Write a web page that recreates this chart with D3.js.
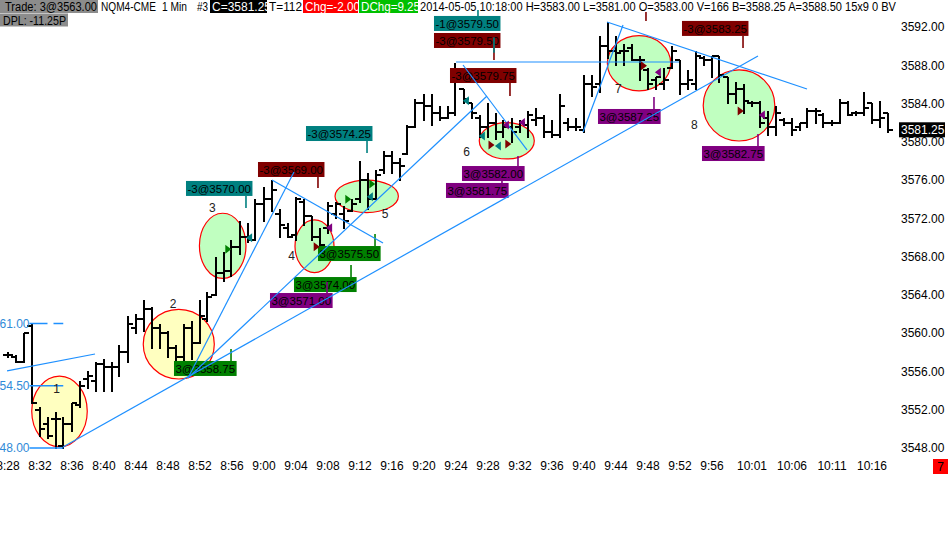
<!DOCTYPE html>
<html><head><meta charset="utf-8">
<script src="https://cdn.jsdelivr.net/npm/d3@7/dist/d3.min.js"></script>
<style>
html,body{margin:0;padding:0;background:#fff;}
svg{display:block;font-family:"Liberation Sans",Arial,sans-serif;}
</style></head>
<body><svg id="c" width="948" height="544"></svg>
<script>
// ---------- DATA ----------
const highs = [3558,3557.75,3560,3561,3552.25,3551.25,3551.75,3551.25,3552.75,3555,
3556,3557,3557.25,3557,3558.75,3561.75,3562,3563.5,3562.75,3561,
3560.25,3558.75,3561,3561.25,3563.5,3564.25,3568,3568.5,3569.75,3571.75,
3571.5,3574,3575.25,3576,3573,3571.5,3574.25,3574,3572.25,3571,
3573.75,3573.75,3573.25,3574,3578,3576.75,3577,3579,3579,3578.25,
3581.75,3584.5,3585,3585,3583.75,3583.75,3588.25,3585.5,3584,3582.75,
3584,3583,3582.25,3582.5,3582.25,3583.25,3583.5,3582.75,3582.25,3585,
3582.5,3582.5,3587,3587,3591,3592.5,3591,3590.25,3590.25,3589,
3587.75,3586.75,3587.75,3590,3588.5,3587.5,3589.5,3589,3589,3589,
3586.75,3586.25,3586,3584.25,3584.25,3583.25,3583.75,3582.5,3582.5,3582,
3583.5,3583.5,3583,3582.25,3584.5,3584.25,3583.25,3585.25,3584,3584.25,3583];
const lows = [3557.5,3557,3557,3552.75,3549.25,3549,3548,3548,3549.75,3552.25,
3554.25,3554,3554,3554,3555.5,3557,3560,3560.25,3558.5,3558.5,
3557.5,3557,3557,3557.25,3559,3561.25,3564,3565.5,3566,3568.25,
3569.5,3569.75,3571.75,3572.75,3570,3570,3569.75,3571.25,3569.75,3568.75,
3570.5,3572,3571,3572.75,3573.75,3573,3574,3576.75,3576.75,3576,
3578.75,3581.5,3582.25,3581.75,3582.25,3582.5,3582.75,3584,3582.5,3580.5,
3580.5,3580.25,3580.5,3580,3581,3580.5,3581.75,3580.5,3580.5,3580.5,
3581.25,3581.25,3581,3584.75,3585.25,3588.75,3588,3588,3588.5,3586.5,
3585.5,3585.5,3585.5,3587.75,3585,3585.5,3585.5,3588,3586.75,3586.25,
3584,3584,3583,3583.75,3581.5,3580.75,3580.75,3581.75,3580.75,3581.25,
3581.5,3582,3581.5,3581.75,3582,3582.75,3582.75,3582.75,3582,3581.5,3581];
const opens = [3557.75,3557.5,3557,3560.75,3552,3550.5,3551,3548.25,3550.5,3552.5,
3555.25,3555,3556.75,3556.5,3556.5,3558,3560.5,3561.5,3562.5,3560.5,
3560,3558.5,3557.5,3560.5,3559,3561.5,3564,3566.25,3566.5,3569,
3570,3569.75,3573.5,3574,3572.5,3571,3570.25,3573.75,3572.25,3570,
3571,3572.5,3572.5,3572.75,3574,3576,3574,3577,3578.5,3577.75,
3578.75,3581.5,3584,3583.75,3583,3582.5,3583,3585.5,3584,3582.5,
3581.5,3582,3581,3581.5,3581.5,3581.75,3582.25,3582.5,3581,3580.75,
3582,3581.5,3581.25,3586,3586,3590,3589.5,3589.5,3589.75,3588.5,
3587.5,3586.5,3586,3587.75,3588.5,3586,3586,3588.75,3588.5,3589,
3586.75,3585,3585.5,3584,3584,3582.5,3581.5,3582.25,3582,3581.5,
3582,3583.25,3582.75,3582,3582,3584,3583,3583,3584,3582.25,3583];
const closes = [3557.75,3557,3560,3552.75,3550,3549.25,3551,3550.5,3552.75,3554.5,
3555.5,3556.75,3556.5,3556.5,3558,3561,3561.5,3562.5,3560.5,3560,
3558.5,3557.5,3560.5,3559,3561.75,3563.75,3566.25,3566.5,3569,3570,
3569.75,3573.5,3574,3575,3571.25,3570,3574,3572.25,3570,3569.25,
3573.25,3573.5,3571.75,3573.5,3576,3574,3576.5,3578.5,3577.75,3577.5,
3581.5,3584,3583.75,3583,3582.5,3583,3586.25,3584.5,3583,3581.5,
3582,3581,3581.5,3581,3582,3582.75,3582.5,3581,3580.75,3583.75,
3581.5,3581.5,3586,3585.75,3590,3589.5,3589.25,3589.5,3588.5,3588.5,
3586,3586.75,3586.5,3589.5,3586,3586.5,3589,3588.5,3589,3587,
3585,3585.5,3584.25,3584,3582,3581.5,3583,3582,3581.25,3582,
3583.25,3583.25,3582,3582,3584,3582.75,3583,3583.5,3582.25,3582.5,3581.25];

const firstBar = "8:28", lastBar = "10:18";
const timeTicks = ["8:28","8:32","8:36","8:40","8:44","8:48","8:52","8:56","9:00","9:04","9:08","9:12","9:16","9:20","9:24","9:28","9:32","9:36","9:40","9:44","9:48","9:52","9:56","10:01","10:06","10:11","10:16"];
const priceTicks = [3548,3552,3556,3560,3564,3568,3572,3576,3580,3584,3588,3592];
const lastPrice = 3581.25;

// annotation data, in (minutes after first bar, price)
const ellipseCenters = [[6.5,3551.83],[21.41,3558.85],[26.9,3569.13],[38.375,3569.08],[44.9,3574.3],[62.41,3580.1],[78.94,3588.2],[91.44,3583.79]];
const ellipseRadii = [[3.47,3.69],[4.44,3.64],[2.91,3.4],[2.44,2.75],[3.96,1.7],[3.44,1.9],[3.96,2.89],[4.475,3.71]];
const ellipseKinds = ["y","y","g","g","g","g","g","g"];
const waveLabels = ["1","2","3","4","5","6","7","8"];
const wavePos = [[6.15,3554.24],[20.7,3563.12],[25.6,3573.15],[35.5,3568.06],[47.2,3572.52],[57.4,3578.96],[76.35,3585.51],[85.85,3581.83]];

const trendLines = [
 [[-0.06,3556.05],[10.94,3557.82]],
 [[6.94,3548.1],[93.81,3588.96]],
 [[22.56,3555.31],[59.94,3584.78]],
 [[22.56,3555.31],[35.81,3576.84]],
 [[33.06,3576.0],[46.94,3569.42]],
 [[56.94,3588.02],[64.94,3579.14]],
 [[56.06,3588.33],[83.94,3588.33]],
 [[71.94,3581.02],[76.94,3592.2]],
 [[74.94,3592.51],[99.94,3585.51]]
];
const levelValues = [3561.0,3554.5,3548.0];
const levelText = ["61.00","54.50","48.00"];
const levelSpan = [2.75,6.97];

const tagTexts = ["-1@3579.50","-3@3579.50","-3@3579.75","-3@3574.25","-3@3569.00","-3@3570.00","3@3575.50","3@3574.00","3@3571.00","3@3558.75","3@3582.00","3@3581.75","3@3587.25","-3@3583.25","3@3582.75"];
const tagPos = [[53.31,3592.36],[53.31,3590.58],[55.31,3586.92],[37.31,3580.86],[31.31,3577.1],[22.31,3575.12],[38.81,3568.32],[35.81,3565.08],[32.81,3563.41],[20.81,3556.31],[56.81,3576.68],[54.81,3574.91],[73.81,3582.64],[84.31,3591.84],[86.81,3578.77]];
const tagKinds = ["t","m","m","t","m","t","g","g","p","g","p","p","p","m","p"];

const stems = [[58.81,3593.77,3593.14,"t"],[60.81,3589.8,3588.54,"m"],[62.81,3586.14,3584.78,"m"],[44.94,3580.08,3578.83,"t"],[38.81,3576.32,3575.17,"m"],[29.81,3574.33,3573.08,"t"],[45.94,3570.36,3569.11,"g"],[42.94,3567.12,3565.87,"g"],[39.94,3565.35,3564.2,"p"],[27.94,3558.34,3557.09,"g"],[63.81,3578.51,3577.47,"p"],[61.81,3575.9,3575.69,"p"],[80.81,3584.68,3583.42,"p"],[91.94,3591.05,3589.8,"m"],[79.81,3593.56,3592.62,"m"],[93.81,3580.81,3579.55,"p"],[60.81,3590.9,3589.3,"t"]];

const markers = [[27.6,3568.76,"R","g"],[30.2,3569.97,"L","t"],[38.65,3569.04,"R","m"],[40.2,3571.02,"L","p"],[42.6,3573.98,"R","g"],[45.6,3575.59,"R","g"],[45.3,3574.26,"L","t"],[57.3,3584.29,"L","t"],[59.3,3580.6,"L","t"],[60.5,3579.66,"R","m"],[61.3,3579.56,"L","t"],[62.6,3579.77,"R","m"],[62.3,3581.75,"L","p"],[64.3,3582.0,"L","p"],[79.56,3587.95,"R","m"],[81.3,3587.26,"L","p"],[91.65,3583.21,"R","m"],[94.3,3582.8,"L","p"]];

// ---------- DRAW ----------
const kindColor = {t:"#008080", m:"#800000", g:"#008000", p:"#800080"};
const svg = d3.select("#c");
const parseT = s => { const [h,m] = s.split(":").map(Number); return new Date(2014,4,5,h,m); };
const t0 = parseT(firstBar);
const x = d3.scaleTime().domain([t0, parseT(lastBar)]).range([7.5, 887.5]);
const y = d3.scaleLinear().domain([3548, 3592]).range([448, 26.9]);
const mx = m => x(new Date(+t0 + m*60000));
const bars = highs.map((h,i)=>({t:new Date(+t0+i*60000), h, l:lows[i], o:opens[i], c:closes[i]}));

// ellipses
svg.append("g").selectAll("ellipse").data(ellipseCenters).join("ellipse")
  .attr("cx", d=>mx(d[0])).attr("cy", d=>y(d[1]))
  .attr("rx", (d,i)=>mx(d[0]+ellipseRadii[i][0]) - mx(d[0]))
  .attr("ry", (d,i)=>y(d[1]-ellipseRadii[i][1]) - y(d[1]))
  .attr("fill", (d,i)=>ellipseKinds[i]==="y" ? "#ffffc0" : "#c0ffc0")
  .attr("stroke", "#ff0000").attr("stroke-width", 1.2);

// bars
const gb = svg.append("g").attr("shape-rendering","crispEdges").attr("fill","#000");
bars.forEach(b=>{
  const cx = Math.round(x(b.t));
  const yh = Math.round(y(b.h)), yl = Math.round(y(b.l));
  gb.append("rect").attr("x", cx-1).attr("y", yh).attr("width", 2).attr("height", Math.max(2, yl-yh+1));
  gb.append("rect").attr("x", cx-5).attr("y", Math.round(y(b.o))-1).attr("width", 5).attr("height", 2);
  gb.append("rect").attr("x", cx).attr("y", Math.round(y(b.c))-1).attr("width", 5).attr("height", 2);
});

// level lines + labels
const gl = svg.append("g");
levelValues.forEach((v,i)=>{
  gl.append("line").attr("x1", mx(levelSpan[0])).attr("x2", mx(levelSpan[1]))
    .attr("y1", y(v)).attr("y2", y(v)).attr("stroke","#1e90ff").attr("stroke-width",1.5)
    .attr("stroke-dasharray", i===0 ? "18,6" : null);
  gl.append("text").attr("x", mx(levelSpan[0])).attr("y", y(v)).attr("dy","0.35em")
    .attr("text-anchor","end").attr("font-size",12).attr("fill","#2f8ad8").text(levelText[i]);
});

// tags (boxes)
const gt = svg.append("g");
tagTexts.forEach((s,i)=>{
  const px = mx(tagPos[i][0]), py = y(tagPos[i][1]);
  const g = gt.append("g");
  const r = g.append("rect").attr("x", px).attr("y", py-7.5).attr("height", 15).attr("fill", kindColor[tagKinds[i]]);
  const t = g.append("text").attr("x", px+1.5).attr("y", py).attr("dy","0.36em").attr("font-size",11.5).attr("fill","#000").text(s);
  r.attr("width", t.node().getComputedTextLength()+3);
});

// stems
svg.append("g").selectAll("line").data(stems).join("line")
  .attr("x1", d=>mx(d[0])).attr("x2", d=>mx(d[0]))
  .attr("y1", d=>y(d[1])).attr("y2", d=>y(d[2]))
  .attr("stroke", d=>kindColor[d[3]]).attr("stroke-width", 1.6);

// trend lines
svg.append("g").selectAll("line").data(trendLines).join("line")
  .attr("x1", d=>mx(d[0][0])).attr("y1", d=>y(d[0][1]))
  .attr("x2", d=>mx(d[1][0])).attr("y2", d=>y(d[1][1]))
  .attr("stroke", "#1e90ff").attr("stroke-width", 1.2);

// markers
svg.append("g").selectAll("path").data(markers).join("path")
  .attr("d", d=>{
    const cx = mx(d[0]), cy = y(d[1]);
    return d[2]==="R" ? `M${cx-3},${cy-4.5}L${cx+3},${cy}L${cx-3},${cy+4.5}Z`
                      : `M${cx+3},${cy-4.5}L${cx-3},${cy}L${cx+3},${cy+4.5}Z`;
  })
  .attr("fill", d=>kindColor[d[3]]);

// wave numbers
svg.append("g").selectAll("text").data(waveLabels).join("text")
  .attr("x", (d,i)=>mx(wavePos[i][0])).attr("y", (d,i)=>y(wavePos[i][1]))
  .attr("dy","0.36em").attr("text-anchor","middle").attr("font-size",12).attr("fill","#222").text(d=>d);

// axes
const ay = svg.append("g").attr("transform","translate(899,0)")
  .call(d3.axisRight(y).tickValues(priceTicks).tickFormat(d3.format(".2f")).tickSize(0).tickPadding(2));
ay.select(".domain").remove();
ay.selectAll("text").attr("font-size",12).attr("font-family","Liberation Sans, Arial, sans-serif").attr("fill","#000");

const ax = svg.append("g").attr("transform","translate(0,458)")
  .call(d3.axisBottom(x).tickValues(timeTicks.map(parseT)).tickFormat(d3.timeFormat("%-H:%M")).tickSize(0).tickPadding(3));
ax.select(".domain").remove();
ax.selectAll("text").attr("font-size",12).attr("font-family","Liberation Sans, Arial, sans-serif").attr("fill","#000");

// last price marker
const lp = svg.append("g");
lp.append("rect").attr("x",899).attr("y",y(lastPrice)-7.5).attr("width",46).attr("height",15).attr("fill","#000");
lp.append("text").attr("x",901).attr("y",y(lastPrice)).attr("dy","0.36em").attr("font-size",12).attr("fill","#fff").text(d3.format(".2f")(lastPrice));

// header
const hdr = svg.append("g").attr("font-size",12);
const defs = svg.append("defs");
const headerBoxes = [
  {x:0,w:98,y:0,fill:"#8c8c8c",tc:"#000",tx:5,tl:92,s:"Trade: 3@3563.00"},
  {x:210,w:57,y:0,fill:"#000",tc:"#fff",tx:212,tl:59,s:"C=3581.25"},
  {x:303,w:55,y:0,fill:"#ff0000",tc:"#fff",tx:305,tl:55,s:"Chg=-2.00"},
  {x:359,w:59,y:0,fill:"#00c000",tc:"#fff",tx:361,tl:59,s:"DChg=9.25"},
  {x:0,w:68,y:13.5,fill:"#8c8c8c",tc:"#000",tx:3,tl:63,s:"DPL: -11.25P"}
];
headerBoxes.forEach((b,i)=>{
  defs.append("clipPath").attr("id","hc"+i).append("rect").attr("x",b.x).attr("y",b.y).attr("width",b.w).attr("height",13);
  hdr.append("rect").attr("x",b.x).attr("y",b.y).attr("width",b.w).attr("height",13).attr("fill",b.fill);
  hdr.append("text").attr("x",b.tx).attr("y",b.y+11).attr("fill",b.tc).attr("clip-path","url(#hc"+i+")")
    .attr("textLength",b.tl).attr("lengthAdjust","spacingAndGlyphs").text(b.s);
});
[[101,55,"NQM4-CME"],[162,25,"1 Min"],[197,11,"#3"],[269,33,"T=112"],[420,476,"2014-05-05 10:18:00 H=3583.00 L=3581.00 O=3583.00 V=166 B=3588.25 A=3588.50 15x9 0 BV"]]
  .forEach(d=>hdr.append("text").attr("x",d[0]).attr("y",11).attr("fill","#000")
    .attr("textLength",d[1]).attr("lengthAdjust","spacingAndGlyphs").text(d[2]));

// bottom-right red box
svg.append("rect").attr("x",933).attr("y",459).attr("width",15).attr("height",15).attr("fill","#ff0000");
svg.append("text").attr("x",940.5).attr("y",466.5).attr("dy","0.36em").attr("text-anchor","middle").attr("font-size",12).attr("fill","#000").text("7");
</script></body></html>
